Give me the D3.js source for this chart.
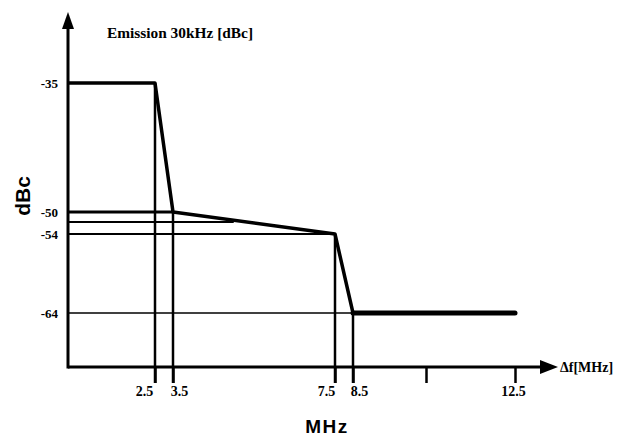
<!DOCTYPE html>
<html>
<head>
<meta charset="utf-8">
<script src="https://cdn.jsdelivr.net/npm/d3@7"></script>
<style>
  body { margin: 0; background: #fff; }
  svg { display: block; }
  .serif { font-family: "Liberation Serif", "DejaVu Serif", serif; }
</style>
</head>
<body>
<svg id="chart" width="620" height="436"></svg>
<script>
// emission mask (thick line)
const maskFreq = [0, 2.5, 3.5, 7.5, 8.5];
const maskLevel = [-35, -35, -50, -54, -64];
const floorFreq = [8.5, 12.5];
const floorLevel = [-64, -64];

// horizontal reference levels and where they stop
const refLevels = [-50, -52, -54, -64];
const refEnds = [3.5, 5.0, 7.5, 8.5];

// vertical markers and their tops
const markFreq = [2.5, 3.5, 7.5, 8.5];
const markTop = [-35, -50, -54, -64];

const xTicks = [2.5, 3.5, 7.5, 8.5, 10.5, 12.5];
const xTickLabels = ["2.5", "3.5", "7.5", "8.5", "", "12.5"];
const yTicks = [-35, -50, -54, -64];
const yTickLabels = ["-35", "-50", "-54", "-64"];

const svg = d3.select("#chart");

// the drawing is schematic, so both axes are piecewise
var x = d3.scaleLinear()
  .domain([0, 2.5, 3.5, 7.5, 8.5, 10.5, 12.5])
  .range([68, 155, 173, 335, 353, 426, 515]);
var y = d3.scaleLinear()
  .domain([-35, -50, -52, -54, -64, -70])
  .range([83, 212, 222, 234, 313, 367]);

const x0 = x(0), yBase = y(-70);

// horizontal reference lines
svg.selectAll(".ref")
  .data(refLevels)
  .enter().append("line")
  .attr("x1", x0)
  .attr("x2", (d, i) => x(refEnds[i]))
  .attr("y1", d => y(d))
  .attr("y2", d => y(d))
  .attr("stroke", "#000")
  .attr("stroke-width", (d, i) => i == 0 ? 3 : (i == 3 ? 1.6 : 2.2));

// vertical markers, running through the axis
svg.selectAll(".mark")
  .data(markFreq)
  .enter().append("line")
  .attr("x1", d => x(d))
  .attr("x2", d => x(d))
  .attr("y1", (d, i) => y(markTop[i]))
  .attr("y2", yBase + 16)
  .attr("stroke", "#000")
  .attr("stroke-width", 2.5);

var line = d3.line()
  .x(d => x(d[0]))
  .y(d => y(d[1]));

svg.append("path")
  .datum(d3.zip(maskFreq, maskLevel))
  .attr("d", line)
  .attr("fill", "none")
  .attr("stroke", "#000")
  .attr("stroke-width", 3.5)
  .attr("stroke-linejoin", "round");

svg.append("path")
  .datum(d3.zip(floorFreq, floorLevel))
  .attr("d", line)
  .attr("fill", "none")
  .attr("stroke", "#000")
  .attr("stroke-width", 5)
  .attr("stroke-linecap", "round");

// x axis
var xAxis = svg.append("g")
  .attr("transform", "translate(0," + yBase + ")")
  .call(d3.axisBottom(x)
    .tickValues(xTicks)
    .tickSize(16)
    .tickPadding(3)
    .tickFormat((d, i) => xTickLabels[i]));
xAxis.select(".domain").remove();
xAxis.selectAll(".tick line").attr("stroke-width", 2.5);
// labels sit beside each other where two ticks are close
const labelShift = [-11, 6, -9, 6, 0, -2];
xAxis.selectAll(".tick text")
  .attr("class", "serif")
  .attr("font-size", 14)
  .attr("font-weight", "bold")
  .attr("fill", "#000")
  .attr("dx", (d, i) => labelShift[i]);

svg.append("line")
  .attr("x1", x0).attr("x2", 543)
  .attr("y1", yBase).attr("y2", yBase)
  .attr("stroke", "#000").attr("stroke-width", 3);
svg.append("path")
  .attr("d", "M540," + (yBase - 7) + "L558," + yBase + "L540," + (yBase + 7) + "Z")
  .attr("fill", "#000");

// y axis
var yAxis = svg.append("g")
  .attr("transform", "translate(" + x0 + ",0)")
  .call(d3.axisLeft(y)
    .tickValues(yTicks)
    .tickSize(0)
    .tickPadding(10)
    .tickFormat((d, i) => yTickLabels[i]));
yAxis.select(".domain").remove();
yAxis.selectAll(".tick text")
  .attr("class", "serif")
  .attr("font-size", 13)
  .attr("font-weight", "bold")
  .attr("fill", "#000");

svg.append("line")
  .attr("x1", x0).attr("x2", x0)
  .attr("y1", yBase + 1.5).attr("y2", 26)
  .attr("stroke", "#000").attr("stroke-width", 3);
svg.append("path")
  .attr("d", "M" + (x0 - 6) + ",29L" + x0 + ",12L" + (x0 + 6) + ",29Z")
  .attr("fill", "#000");

// texts
svg.append("text")
  .attr("class", "serif")
  .attr("x", 107).attr("y", 38)
  .attr("font-size", 15)
  .attr("font-weight", "bold")
  .attr("textLength", 146)
  .attr("lengthAdjust", "spacingAndGlyphs")
  .text("Emission 30kHz [dBc]");

svg.append("text")
  .attr("class", "serif")
  .attr("x", 560).attr("y", 372)
  .attr("font-size", 14)
  .attr("font-weight", "bold")
  .text("Δf[MHz]");

svg.append("text")
  .attr("x", 327).attr("y", 433)
  .attr("text-anchor", "middle")
  .attr("font-family", "Liberation Sans, Arial, sans-serif")
  .attr("font-size", 19)
  .attr("font-weight", "bold")
  .attr("letter-spacing", 1.5)
  .text("MHz");

svg.append("text")
  .attr("transform", "translate(30,196) rotate(-90)")
  .attr("text-anchor", "middle")
  .attr("font-family", "Liberation Sans, Arial, sans-serif")
  .attr("font-size", 21)
  .attr("font-weight", "bold")
  .text("dBc");
</script>
</body>
</html>
